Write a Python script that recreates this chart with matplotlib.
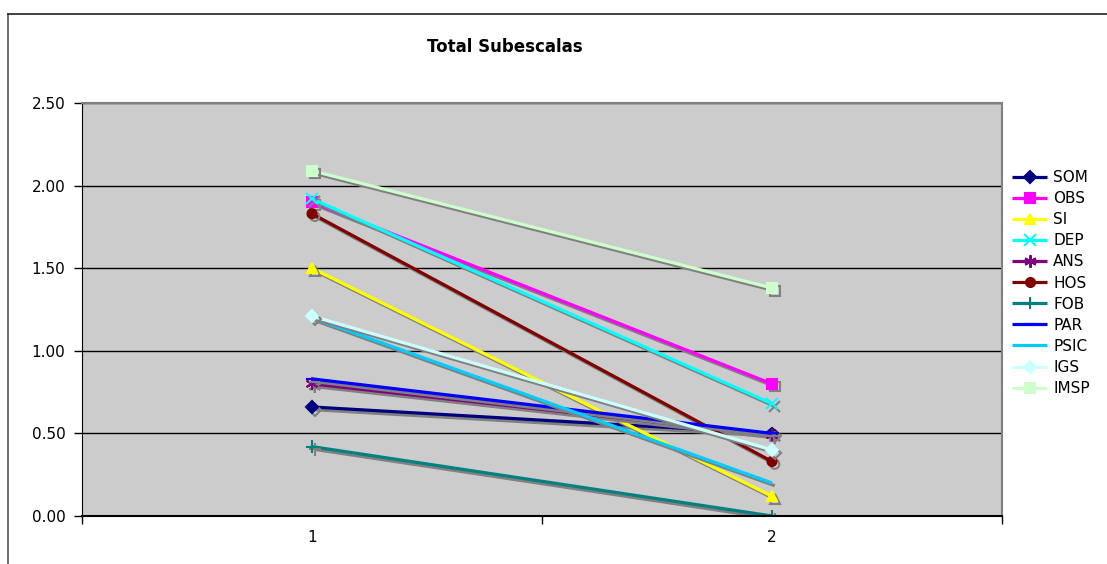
import matplotlib
matplotlib.use("Agg")
import matplotlib.pyplot as plt
import matplotlib.patheffects as pe
from matplotlib.lines import Line2D

# data
categories = [1, 2]
series_names = ["SOM", "OBS", "SI", "DEP", "ANS", "HOS", "FOB", "PAR", "PSIC", "IGS", "IMSP"]
som = [0.66, 0.50]
obs = [1.90, 0.80]
si = [1.50, 0.12]
dep = [1.92, 0.68]
ans = [0.80, 0.49]
hos = [1.83, 0.33]
fob = [0.42, 0.00]
par = [0.83, 0.50]
psic = [1.20, 0.20]
igs = [1.21, 0.40]
imsp = [2.09, 1.38]
values = [som, obs, si, dep, ans, hos, fob, par, psic, igs, imsp]
y_ticks = [0.0, 0.5, 1.0, 1.5, 2.0, 2.5]

colors = ["#000080", "#FF00FF", "#FFFF00", "#00FFFF", "#800080", "#800000",
          "#008080", "#0000FF", "#00CCFF", "#CCFFFF", "#CCFFCC"]
markers = ["D", "s", "^", "x", (6, 2, 0), "o", "+", "_", "", "D", "s"]
msizes = [6, 7, 7, 8, 9, 6.5, 9, 8, 0, 6, 7]

fig = plt.figure(figsize=(11.07, 5.64), dpi=100)
ax = fig.add_axes([82 / 1107, 1 - 516 / 564, 920 / 1107, 413 / 564])
ax.set_facecolor("#cccccc")

lines = []
for name, vals, c, m, ms in zip(series_names, values, colors, markers, msizes):
    ln, = ax.plot(categories, vals, color=c, lw=2.3, marker=m, markersize=ms,
                  markeredgecolor=c, markerfacecolor=c, markeredgewidth=1.5,
                  label=name, solid_capstyle="butt")
    lines.append(ln)

ax.set_xlim(0.5, 2.5)
ax.set_ylim(0, 2.5)
ax.set_yticks(y_ticks)
ax.set_yticklabels([f"{v:.2f}" for v in y_ticks], fontsize=11)
ax.yaxis.grid(True, color="black", lw=1)
ax.set_axisbelow(True)

ax.set_xticks([0.5, 1.5, 2.5])
ax.set_xticklabels([])
ax.set_xticks(categories, minor=True)
ax.set_xticklabels([str(c) for c in categories], minor=True, fontsize=11)
ax.tick_params(axis="x", which="major", direction="out", length=6, width=1)
ax.tick_params(axis="x", which="minor", length=0, pad=10)
ax.tick_params(axis="y", direction="out", length=6, width=1, pad=6)

for s in ["top", "right"]:
    ax.spines[s].set_color("#808080")
    ax.spines[s].set_linewidth(1.5)
ax.spines["left"].set_color("black")
ax.spines["bottom"].set_color("black")
ax.spines["bottom"].set_linewidth(1.5)

fig.text(505 / 1107, 1 - 47 / 564, "Total Subescalas", ha="center", va="center",
         fontsize=12, fontweight="bold")

fig.legend(handles=lines, loc="center left", bbox_to_anchor=(1012 / 1107, 1 - 283 / 564),
           frameon=False, fontsize=11, labelspacing=0.4, handlelength=2.3,
           handletextpad=0.4, borderaxespad=0, borderpad=0)

# drop shadow after the legend so legend handles stay plain
for ln in lines:
    ln.set_path_effects([pe.SimpleLineShadow(offset=(2, -2), shadow_color="#808080", alpha=1.0),
                         pe.Normal()])

# outer chart border
fig.add_artist(Line2D([8 / 1107, 8 / 1107], [0, 1 - 14 / 564], color="#555555", lw=1.2,
                      transform=fig.transFigure))
fig.add_artist(Line2D([8 / 1107, 1], [1 - 14 / 564, 1 - 14 / 564], color="#222222", lw=1.2,
                      transform=fig.transFigure))

fig.savefig("out.png", dpi=100)
